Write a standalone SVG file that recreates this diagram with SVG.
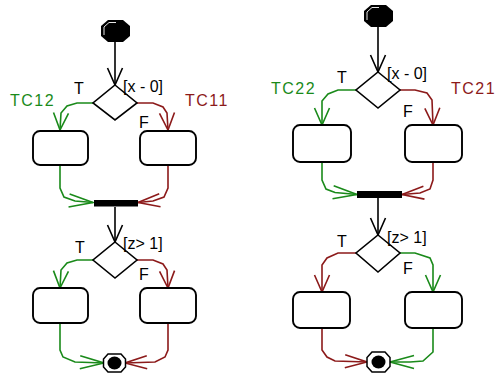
<svg xmlns="http://www.w3.org/2000/svg" width="496" height="374" viewBox="0 0 496 374">
<style>
.lbl{font-family:"Liberation Sans",Arial,sans-serif;font-size:16px;fill:#000}
.tcg{font-family:"Liberation Sans",Arial,sans-serif;font-size:16px;fill:#1a8a1a;letter-spacing:1.5px}
.tcr{font-family:"Liberation Sans",Arial,sans-serif;font-size:16px;fill:#8c1a1a;letter-spacing:1.5px}
.box{fill:#fff;stroke:#000;stroke-width:1.9}
.dia{fill:#fff;stroke:#000;stroke-width:1.6}
.k{fill:none;stroke:#000;stroke-width:1.6}
.g{fill:none;stroke:#1a8a1a;stroke-width:1.6}
.r{fill:none;stroke:#8c1a1a;stroke-width:1.6}
.kv{marker-end:url(#mkv)}
.gv{marker-end:url(#mgv)}
.rv{marker-end:url(#mrv)}
.gh{marker-end:url(#mgh)}
.rh{marker-end:url(#mrh)}
</style>
<defs>
<marker id="mkv" markerUnits="userSpaceOnUse" viewBox="0 0 30 30" markerWidth="30" markerHeight="30" refX="20" refY="15" orient="auto"><path d="M3 7.5 L20 15 L3 22.5" fill="none" stroke="#000" stroke-width="1.6"/></marker>
<marker id="mgv" markerUnits="userSpaceOnUse" viewBox="0 0 30 30" markerWidth="30" markerHeight="30" refX="20" refY="15" orient="auto"><path d="M3 7.5 L20 15 L3 22.5" fill="none" stroke="#1a8a1a" stroke-width="1.6"/></marker>
<marker id="mrv" markerUnits="userSpaceOnUse" viewBox="0 0 30 30" markerWidth="30" markerHeight="30" refX="20" refY="15" orient="auto"><path d="M3 7.5 L20 15 L3 22.5" fill="none" stroke="#8c1a1a" stroke-width="1.6"/></marker>
<marker id="mgh" markerUnits="userSpaceOnUse" viewBox="0 0 30 30" markerWidth="30" markerHeight="30" refX="26" refY="15" orient="auto"><path d="M2 8.5 L26 15 L2 21.5" fill="none" stroke="#1a8a1a" stroke-width="1.6"/></marker>
<marker id="mrh" markerUnits="userSpaceOnUse" viewBox="0 0 30 30" markerWidth="30" markerHeight="30" refX="26" refY="15" orient="auto"><path d="M4 8.5 L26 15 L4 21.5" fill="none" stroke="#8c1a1a" stroke-width="1.6"/></marker>
</defs>
<rect width="496" height="374" fill="#fff"/>

<g id="connectors">
<polyline class="k kv" points="115,42 115,85"/>
<polyline class="g gv" points="93,103 77,103 67,106 61,113 60,130"/>
<polyline class="r rv" points="136,103 153,103 163,107 167,113 168,130"/>
<polyline class="g gh" points="60,165 60,188 64,197 75,201 93,202.5"/>
<polyline class="r rh" points="168,165 168,188 164,197 153,201 138,202.5"/>
<polyline class="k kv" points="115,207 115,242"/>
<polyline class="g gv" points="93,260 77,260 67,263 61,270 60,288"/>
<polyline class="r rv" points="136,260 153,260 163,264 167,270 168,288"/>
<polyline class="g gh" points="60,323 60,350 63,357 75,362 104,363"/>
<polyline class="r rh" points="168,323 168,350 165,357 155,362 125,363"/>
<polyline class="k kv" points="378,27 378,72"/>
<polyline class="g gv" points="356,90 338,90 328,94 322,101 322,125"/>
<polyline class="r rv" points="400,90 415,90 427,93 432,100 433,125"/>
<polyline class="g gh" points="322,162 322,180 326,189 335,192.5 357,194.5"/>
<polyline class="r rh" points="433,162 433,180 430,189 420,193 402,194.5"/>
<polyline class="k kv" points="378,198 378,235"/>
<polyline class="r rv" points="356,253 338,253 327,258 322,265 322,292"/>
<polyline class="g gv" points="400,253 415,253 430,258 433,265 433,292"/>
<polyline class="r rh" points="322,328 322,350 327,357 335,361 367,362"/>
<polyline class="g gh" points="433,328 433,352 423,361 410,362 390,362"/>
</g>

<g id="start1">
<polygon points="108,20 123,20 130,26 130,36 123,42 108,42 101,36 101,26" fill="#000"/>
<polyline points="104,35 104,27 109,22.5 116,22.5" fill="none" stroke="#fff" stroke-width="0.9"/>
</g>
<g id="decision1"><polygon class="dia" points="115,85 137,103 115,120 93,103"/></g>
<g id="action11"><rect class="box" x="33" y="131" width="55" height="34" rx="7"/></g>
<g id="action12"><rect class="box" x="140" y="131" width="56" height="34" rx="7"/></g>
<g id="join1"><rect x="94" y="200" width="44" height="6.5" fill="#000"/></g>
<g id="decision2"><polygon class="dia" points="115,242 137,260 115,278 93,260"/></g>
<g id="action13"><rect class="box" x="33" y="288" width="55" height="35" rx="7"/></g>
<g id="action14"><rect class="box" x="140" y="288" width="56" height="35" rx="7"/></g>
<g id="end1">
<polygon points="108,354 121,354 125.5,359 125.5,367 121,372 108,372 103.5,367 103.5,359" fill="#fff" stroke="#000" stroke-width="1.5"/>
<ellipse cx="114.5" cy="363" rx="7" ry="6.5" fill="#000"/>
</g>

<g id="start2">
<polygon points="371,5 386,5 393,11 393,21 386,27 371,27 364,21 364,11" fill="#000"/>
<polyline points="367,20 367,12 372,7.5 379,7.5" fill="none" stroke="#fff" stroke-width="0.9"/>
</g>
<g id="decision3"><polygon class="dia" points="378,72 400,90 378,108 356,90"/></g>
<g id="action21"><rect class="box" x="293" y="125" width="58" height="37" rx="7"/></g>
<g id="action22"><rect class="box" x="405" y="125" width="57" height="37" rx="7"/></g>
<g id="join2"><rect x="357" y="191" width="45" height="7" fill="#000"/></g>
<g id="decision4"><polygon class="dia" points="378,235 400,253 378,272 356,253"/></g>
<g id="action23"><rect class="box" x="293" y="292" width="57" height="36" rx="7"/></g>
<g id="action24"><rect class="box" x="405" y="292" width="57" height="36" rx="7"/></g>
<g id="end2">
<polygon points="372,352 385,352 390,357.5 390,366.5 385,372 372,372 367,366.5 367,357.5" fill="#fff" stroke="#000" stroke-width="1.5"/>
<ellipse cx="378.5" cy="362" rx="7" ry="6.5" fill="#000"/>
</g>

<g id="labels">
<text class="lbl" x="123" y="92">[x - 0]</text>
<text class="lbl" x="74" y="94">T</text>
<text class="lbl" x="139" y="128">F</text>
<text class="tcg" x="10" y="106">TC12</text>
<text class="tcr" x="185" y="106">TC11</text>
<text class="lbl" x="123" y="249">[z&gt; 1]</text>
<text class="lbl" x="75" y="253">T</text>
<text class="lbl" x="139" y="280">F</text>
<text class="lbl" x="387" y="79">[x - 0]</text>
<text class="lbl" x="337" y="83">T</text>
<text class="lbl" x="403" y="117">F</text>
<text class="tcg" x="271" y="94">TC22</text>
<text class="tcr" x="451" y="94">TC21</text>
<text class="lbl" x="387" y="243">[z&gt; 1]</text>
<text class="lbl" x="337" y="247">T</text>
<text class="lbl" x="403" y="274">F</text>
</g>
</svg>
